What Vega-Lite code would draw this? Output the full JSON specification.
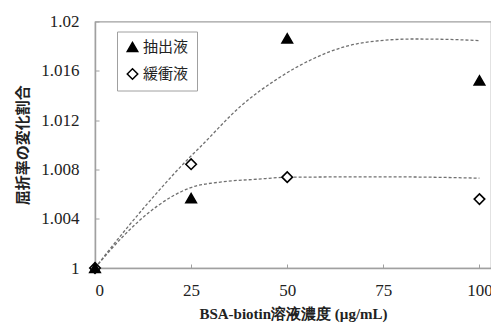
{
  "$schema": "https://vega.github.io/schema/vega-lite/v6.json",
  "width": 396,
  "height": 246.5,
  "autosize": "none",
  "padding": {"left": 95, "top": 21.5, "right": 0, "bottom": 59},
  "background": "white",
  "config": {
    "view": {"stroke": "#a0a0a0", "strokeWidth": 1.2},
    "axis": {
      "grid": false,
      "domainColor": "#a0a0a0",
      "domainWidth": 1.5,
      "tickColor": "#a0a0a0",
      "tickSize": -4,
      "labelFont": "Liberation Serif",
      "labelFontSize": 17,
      "labelColor": "#222",
      "titleColor": "#222",
      "titleFontSize": 15,
      "titleFontWeight": "bold"
    }
  },
  "datasets": {
    "pts": [
      {"x": 0, "y": 1.0, "series": "緩衝液"},
      {"x": 25, "y": 1.00842, "series": "緩衝液"},
      {"x": 50, "y": 1.00737, "series": "緩衝液"},
      {"x": 100, "y": 1.00559, "series": "緩衝液"},
      {"x": 0, "y": 1.0, "series": "抽出液"},
      {"x": 25, "y": 1.00567, "series": "抽出液"},
      {"x": 50, "y": 1.01862, "series": "抽出液"},
      {"x": 100, "y": 1.01522, "series": "抽出液"}
    ],
    "fit": [
      {"curve": "a", "x": 0, "y": 1.0},
      {"curve": "a", "x": 7.4, "y": 1.0029},
      {"curve": "a", "x": 16.1, "y": 1.0061},
      {"curve": "a", "x": 24.7, "y": 1.0090},
      {"curve": "a", "x": 27.3, "y": 1.0098},
      {"curve": "a", "x": 37.8, "y": 1.0131},
      {"curve": "a", "x": 48.2, "y": 1.0155},
      {"curve": "a", "x": 56.9, "y": 1.0170},
      {"curve": "a", "x": 65.5, "y": 1.0180},
      {"curve": "a", "x": 74.2, "y": 1.01845},
      {"curve": "a", "x": 82.9, "y": 1.01858},
      {"curve": "a", "x": 91.6, "y": 1.01855},
      {"curve": "a", "x": 100, "y": 1.01845},
      {"curve": "b", "x": 0, "y": 1.0},
      {"curve": "b", "x": 7.4, "y": 1.0026},
      {"curve": "b", "x": 16.1, "y": 1.0050},
      {"curve": "b", "x": 24.7, "y": 1.0065},
      {"curve": "b", "x": 33.4, "y": 1.0070},
      {"curve": "b", "x": 42.0, "y": 1.0072},
      {"curve": "b", "x": 50, "y": 1.00736},
      {"curve": "b", "x": 75, "y": 1.0074},
      {"curve": "b", "x": 100, "y": 1.00729}
    ]
  },
  "layer": [
    {
      "data": {"name": "fit"},
      "mark": {"type": "line", "interpolate": "monotone", "strokeDash": [3, 2], "color": "#707070", "strokeWidth": 1.3},
      "encoding": {
        "x": {"field": "x", "type": "quantitative", "scale": {"domain": [0, 103], "nice": false}},
        "y": {"field": "y", "type": "quantitative", "scale": {"domain": [1, 1.02], "nice": false}},
        "detail": {"field": "curve"}
      }
    },
    {
      "data": {"name": "pts"},
      "mark": {"type": "point", "stroke": "black", "strokeWidth": 1.6, "size": 110, "opacity": 1},
      "encoding": {
        "x": {
          "field": "x", "type": "quantitative",
          "scale": {"domain": [0, 103], "nice": false},
          "axis": {"values": [0, 25, 50, 75, 100], "labelFont": "Liberation Serif", "labelFontSize": 17, "labelPadding": 18, "title": "BSA-biotin溶液濃度 (µg/mL)", "titleFont": "Liberation Serif", "titlePadding": 8}
        },
        "y": {
          "field": "y", "type": "quantitative",
          "scale": {"domain": [1, 1.02], "nice": false},
          "axis": {
            "values": [1, 1.002, 1.004, 1.006, 1.008, 1.01, 1.012, 1.014, 1.016, 1.018, 1.02],
            "labelExpr": "abs(datum.value*1000 - round(datum.value*250)*4) < 0.01 ? format(datum.value, '.3~f') : ''",
            "labelFont": "Liberation Serif",
            "labelFontSize": 17,
            "labelPadding": 20,
            "title": "屈折率の変化割合",
            "titleFont": "Noto Sans CJK JP",
            "titlePadding": 10
          }
        },
        "shape": {
          "field": "series", "type": "nominal",
          "scale": {"domain": ["抽出液", "緩衝液"], "range": ["triangle-up", "diamond"]},
          "legend": {
            "title": null,
            "orient": "none",
            "legendX": 22,
            "legendY": 10,
            "padding": 8,
            "strokeColor": "#a0a0a0",
            "fillColor": "white",
            "labelFont": "Noto Sans CJK JP",
            "labelFontSize": 15,
            "labelColor": "#222",
            "symbolSize": 110,
            "rowPadding": 10,
            "labelOffset": 3,
            "encode": {"symbols": {"update": {"stroke": {"value": "black"}, "strokeWidth": {"value": 1.4}}}}
          }
        },
        "fill": {
          "field": "series", "type": "nominal",
          "scale": {"domain": ["抽出液", "緩衝液"], "range": ["black", "white"]},
          "legend": {
            "title": null,
            "orient": "none",
            "legendX": 22,
            "legendY": 10,
            "padding": 8,
            "strokeColor": "#a0a0a0",
            "fillColor": "white",
            "labelFont": "Noto Sans CJK JP",
            "labelFontSize": 15,
            "labelColor": "#222",
            "symbolSize": 110,
            "rowPadding": 10,
            "labelOffset": 3,
            "encode": {"symbols": {"update": {"stroke": {"value": "black"}, "strokeWidth": {"value": 1.4}}}}
          }
        }
      }
    }
  ]
}
